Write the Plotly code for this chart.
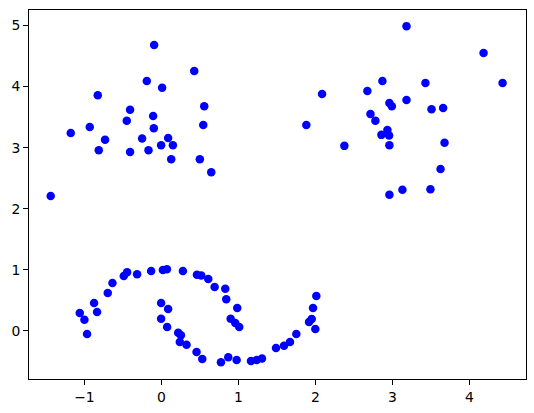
import plotly.graph_objects as go

# two interleaved half-moons
moon_x = [-1.06, -0.999, -0.965, -0.874, -0.835, -0.696, -0.635, -0.488, -0.445, -0.315,
          -0.133, 0.02, 0.072, 0.28, 0.462, 0.518, 0.609, 0.692, 0.83, 0.843,
          0.986, 0.90, 0.96, 1.012,
          -0.003, 0.088, -0.003, 0.075, 0.219, 0.254, 0.24, 0.327, 0.457, 0.531,
          0.774, 0.869, 0.978, 1.164, 1.238, 1.307, 1.489, 1.593, 1.671, 1.753,
          1.918, 1.953, 2.0, 1.97, 2.013]
moon_y = [0.295, 0.185, -0.05, 0.458, 0.31, 0.62, 0.785, 0.90, 0.96, 0.93,
          0.98, 1.0, 1.01, 0.98, 0.92, 0.91, 0.85, 0.72, 0.69, 0.52,
          0.375, 0.20, 0.13, 0.065,
          0.458, 0.36, 0.20, 0.065, -0.03, -0.07, -0.18, -0.225, -0.345, -0.46,
          -0.51, -0.43, -0.475, -0.49, -0.475, -0.45, -0.28, -0.24, -0.18, -0.05,
          0.147, 0.196, 0.033, 0.376, 0.573]

# upper-left blob
blob1_x = [-0.094, 0.427, -0.189, 0.01, -0.826, 0.557, -0.406, -0.107, -0.449, 0.544,
           -0.93, -0.098, -1.177, -0.731, -0.25, 0.088, -0.003, 0.15, -0.813, -0.406,
           -0.167, 0.128, 0.50, 0.648, -1.437]
blob1_y = [4.68, 4.255, 4.09, 3.98, 3.86, 3.68, 3.62, 3.52, 3.44, 3.37,
           3.34, 3.32, 3.24, 3.13, 3.15, 3.16, 3.04, 3.04, 2.96, 2.93,
           2.96, 2.81, 2.81, 2.60, 2.21]

# upper-right blob
blob2_x = [3.184, 4.185, 4.432, 2.871, 3.43, 2.087, 2.676, 3.184, 2.962, 2.993,
           3.509, 3.66, 2.716, 2.78, 1.883, 2.936, 2.858, 2.958, 2.962, 2.377,
           3.678, 3.626, 3.131, 3.495, 2.962]
blob2_y = [4.99, 4.55, 4.06, 4.09, 4.06, 3.88, 3.93, 3.78, 3.73, 3.68,
           3.63, 3.65, 3.55, 3.44, 3.37, 3.29, 3.21, 3.20, 3.04, 3.03,
           3.08, 2.65, 2.31, 2.32, 2.23]

xs = moon_x + blob1_x + blob2_x
ys = moon_y + blob1_y + blob2_y

fig = go.Figure()
fig.add_trace(go.Scatter(
    x=xs, y=ys, mode='markers',
    marker=dict(color='#0000ff', size=8.5, line=dict(width=0)),
    showlegend=False
))

axis_style = dict(showgrid=False, zeroline=False, showline=True, linecolor='black',
                  linewidth=1, mirror=True, ticks='outside', ticklen=5,
                  tickcolor='black', tickwidth=1, automargin=False,
                  tickfont=dict(family='DejaVu Sans', size=13.9, color='black'))

fig.update_layout(
    width=534, height=413,
    margin=dict(l=29, r=8, t=10, b=34),
    plot_bgcolor='white', paper_bgcolor='white',
    xaxis=dict(range=[-1.719, 4.736], tickvals=[-1, 0, 1, 2, 3, 4], **axis_style),
    yaxis=dict(range=[-0.786, 5.254], tickvals=[0, 1, 2, 3, 4, 5], **axis_style),
)

# drop the page's default body margin so the figure sits at (0, 0)
fig.write_html("out.html",
               config={'displayModeBar': False},
               post_script="document.body.style.margin='0';"
                           "document.body.style.overflow='hidden';")
